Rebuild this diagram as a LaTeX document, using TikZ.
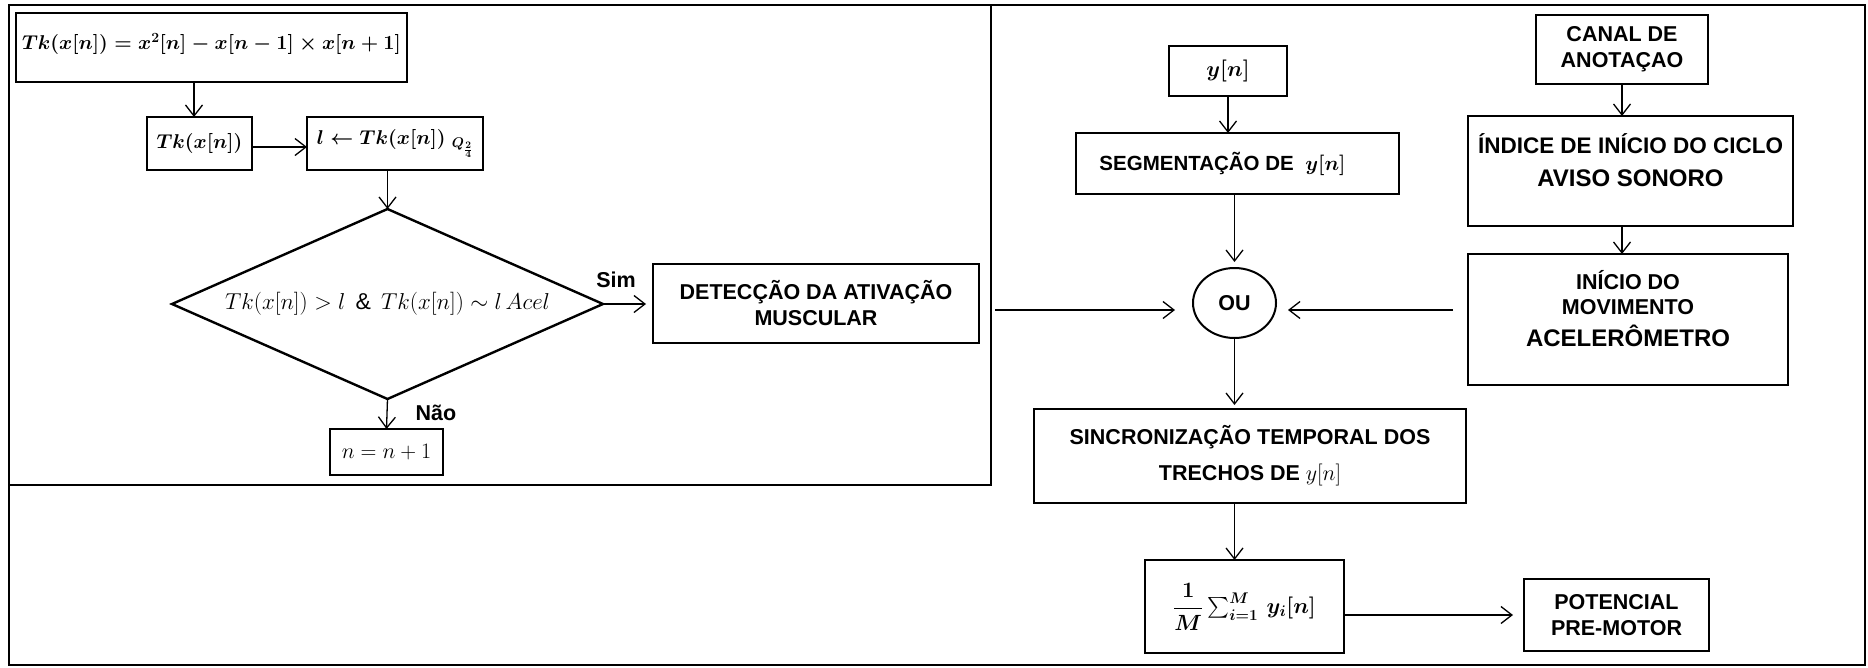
\RequirePackage{fix-cm}
\documentclass[tikz,border=0pt]{standalone}
\usepackage{amsmath}
\usepackage{fontspec}
\setmainfont{Liberation Sans}
\usetikzlibrary{arrows.meta,shapes.geometric,calc}
\tikzset{
  box/.style={draw, line width=2.6pt, inner sep=0pt, outer sep=0pt},
  lbl/.style={font=\fontsize{21.5}{26}\selectfont\bfseries, align=center},
  mth/.style={font=\fontsize{20}{24}\selectfont\boldmath},
  arr/.style={line width=1.3pt, -{Straight Barb[length=11pt,width=17pt,line width=1.3pt]}},
}
\begin{document}
\begin{tikzpicture}[x=1pt,y=-1pt]
\useasboundingbox (0,0) rectangle (1868,667);
\node[draw, line width=2pt, inner sep=0pt, outer sep=0pt, anchor=north west, minimum width=1856pt, minimum height=660pt] (frame) at (9,5) {};
\node[draw, line width=1.5pt, inner sep=0pt, outer sep=0pt, anchor=north west, minimum width=982pt, minimum height=480pt] (lp) at (9,5) {};
\coordinate (ay) at (0,310);
\node[box, mth, minimum width=391pt, minimum height=69pt] (eqn) at (211.5,47.5) {$Tk(x[n]) = x^2[n] - x[n-1]\times x[n+1]$\rule[-12pt]{0pt}{1pt}};
\node[box, mth, minimum width=105pt, minimum height=53pt] (tk) at (199.5,143.5) {$Tk(x[n])$};
\node[box, mth, minimum width=176pt, minimum height=53pt] (lq) at (395,143.5) {$l \leftarrow Tk(x[n])\;{}_{Q_{\frac{2}{4}}}$};
\node[diamond, draw, line width=2.4pt, minimum width=431pt, minimum height=190pt, aspect=2.27, inner sep=0pt, outer sep=0pt, font=\fontsize{23}{27}\selectfont] (dec) at (387.5,304) {$Tk(x[n]) > l\;\,\&\;\, Tk(x[n]) \sim l\,Acel$};
\node[box, font=\fontsize{22}{26}\selectfont, minimum width=113pt, minimum height=46pt] (inc) at (386.5,452) {$n = n+1$};
\node[box, lbl, minimum width=326pt, minimum height=79pt] (det) at (816,303.5) {DETECÇÃO DA ATIVAÇÃO\\MUSCULAR};
\node[lbl] (sim) at (616,280) {Sim};
\node[lbl] (nao) at (436,413) {Não};
\node[box, mth, font=\fontsize{22}{26}\selectfont\boldmath, minimum width=118pt, minimum height=50pt] (yn) at (1228,71) {$y[n]$};
\node[box, lbl, font=\fontsize{20.5}{25}\selectfont\bfseries, minimum width=323pt, minimum height=61pt] (seg) at (1237.5,163.5) {SEGMENTAÇÃO DE~~{\boldmath$y[n]$}\hspace*{30pt}};
\node[ellipse, draw, line width=2pt, minimum width=83pt, minimum height=70pt, inner sep=0pt, outer sep=0pt, lbl] (ou) at (1234.5,303) {OU};
\node[box, lbl, minimum width=172pt, minimum height=69pt] (canal) at (1622,49.5) {CANAL DE\\ANOTAÇAO};
\node[box, lbl, font=\fontsize{22.5}{27}\selectfont\bfseries, minimum width=325pt, minimum height=110pt] (ind) at (1630.5,171) {ÍNDICE DE INÍCIO DO CICLO\\[6pt]{\fontsize{24}{28}\selectfont AVISO SONORO}\\[-6pt]\mbox{}};
\node[box, lbl, minimum width=320pt, minimum height=131pt] (ini) at (1628,319.5) {INÍCIO DO\\[-1pt]MOVIMENTO\\[6pt]{\fontsize{24}{28}\selectfont ACELERÔMETRO}\\[-4pt]\mbox{}};
\node[box, lbl, minimum width=432pt, minimum height=94pt] (sync) at (1250,456) {SINCRONIZAÇÃO TEMPORAL DOS\\[10pt]TRECHOS DE {\fontsize{22}{26}\selectfont$y[n]$}};
\node[box, mth, font=\fontsize{22}{26}\selectfont\boldmath, minimum width=199pt, minimum height=93pt] (sum) at (1244.5,606.5) {$\dfrac{1}{M}\sum_{i=1}^{M}\, y_i[n]$};
\node[box, lbl, minimum width=185pt, minimum height=72pt] (pot) at (1616.5,615) {POTENCIAL\\PRE-MOTOR};
\draw[arr] ([xshift=-5.5pt]tk.north |- eqn.south) -- ([xshift=-5.5pt]tk.north);
\draw[arr] ([yshift=-3.5pt]tk.east) -- ([yshift=-3.5pt]lq.west);
\draw[arr] (dec.north |- lq.south) -- (dec.north);
\draw[arr, shorten >=7pt] (dec.east) -- (det.west |- dec.east);
\draw[arr] (dec.south) -- (inc.north);
\draw[arr, shorten <=4pt, shorten >=18pt] (lp.east |- ay) -- (ou.west |- ay);
\draw[arr, shorten >=12pt] ([xshift=-15pt]ini.west |- ay) -- (ou.east |- ay);
\draw[arr] (yn.south) -- (yn.south |- seg.north);
\draw[arr, shorten >=6pt] (ou.north |- seg.south) -- (ou.north);
\draw[arr, shorten >=4pt] (ou.south) -- (ou.south |- sync.north);
\draw[arr] (canal.south) -- (canal.south |- ind.north);
\draw[arr] (canal.south |- ind.south) -- (canal.south |- ini.north);
\draw[arr] ([xshift=-10pt]sum.north |- sync.south) -- ([xshift=-10pt]sum.north);
\draw[arr, shorten >=11pt] (sum.east |- pot.west) -- (pot.west);
\end{tikzpicture}
\end{document}
